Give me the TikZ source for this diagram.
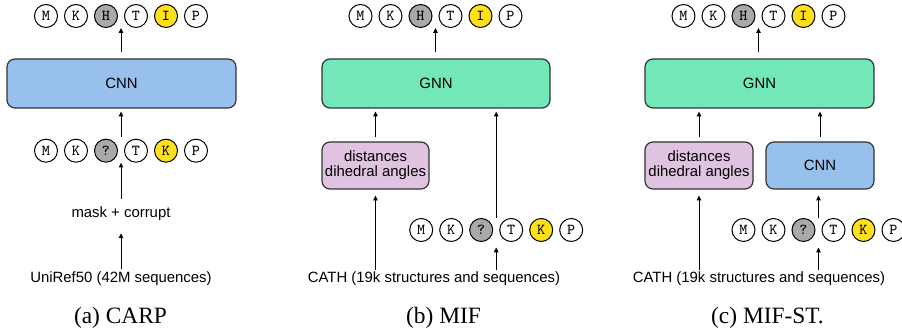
\documentclass[tikz,border=0pt]{standalone}
\usepackage{fontspec}
\setmainfont{Liberation Serif}
\setsansfont{Liberation Sans}
\usetikzlibrary{arrows.meta,calc}
\definecolor{cnnblue}{RGB}{151,192,236}
\definecolor{gnngreen}{RGB}{114,232,184}
\definecolor{featpurple}{RGB}{223,195,225}
\definecolor{maskgray}{RGB}{169,169,169}
\definecolor{subyellow}{RGB}{255,224,26}
\definecolor{edgegray}{RGB}{51,51,51}
\begin{document}
\begin{tikzpicture}[x=0.5pt,y=-0.5pt,
  model/.style={draw=edgegray, line width=0.6pt, rounded corners=4pt, minimum height=24.5pt, inner sep=0pt, align=center, font=\sffamily\fontsize{7.45}{7.6}\selectfont},
  res/.style={circle, draw=black, line width=0.5pt, minimum size=11.5pt, inner sep=0pt, font=\ttfamily\fontsize{7.6}{8}\selectfont},
  lbl/.style={inner sep=1pt, font=\sffamily\fontsize{7.45}{8.6}\selectfont},
  subcap/.style={inner sep=0pt, font=\rmfamily\fontsize{11.7}{14}\selectfont},
  arr/.style={-{Triangle[length=2.4pt,width=2.2pt]}, line width=0.5pt}]
\useasboundingbox (0,0) rectangle (902,335);

\foreach \p/\cx in {a/121,b/435.5,c/758.5}
  \foreach \lett/\fillc [count=\i] in {M/white,K/white,H/maskgray,T/white,I/subyellow,P/white}
    \node[res, fill=\fillc] (\p-out-\i) at ({\cx+(\i-3.5)*30},16) {\lett};
\foreach \p/\cx/\cy in {a/121/150.7,b/496.2/230,c/818.5/230}
  \foreach \lett/\fillc [count=\i] in {M/white,K/white,?/maskgray,T/white,K/subyellow,P/white}
    \node[res, fill=\fillc] (\p-in-\i) at ({\cx+(\i-3.5)*30},\cy) {\lett};
\foreach \p in {a,b,c} {
  \coordinate (\p-outgap) at ($(\p-out-3)!0.5!(\p-out-4)$);
  \coordinate (\p-ingap) at ($(\p-in-3)!0.5!(\p-in-4)$);
}

% (a) CARP
\node[model, fill=cnnblue, minimum width=114.5pt] (a-cnn) at (121.5,83.5) {CNN};
\node[lbl] (a-mask) at (121,214) {mask + corrupt};
\node[lbl] (a-data) at (121,279) {UniRef50 (42M sequences)};
\node[subcap] (a-cap) at (120.5,318) {(a) CARP};

\draw[arr, shorten <=3pt] (a-cnn.north -| a-outgap) -- (a-out-3.south -| a-outgap);
\draw[arr, shorten <=1pt, shorten >=1.5pt] (a-in-3.north -| a-ingap) -- (a-cnn.south -| a-ingap);
\draw[arr, shorten <=3pt] (a-mask.north) -- (a-in-3.south -| a-ingap);
\draw[arr, shorten <=0.5pt, shorten >=5pt] (a-data.north) -- (a-mask.south);

% (b) MIF
\node[model, fill=gnngreen, minimum width=114pt] (b-gnn) at (436,83.5) {GNN};
\node[model, fill=featpurple, minimum width=53.5pt, minimum height=23.5pt] (b-feat) at (375.5,165.5) {distances\\dihedral angles};
\node[lbl] (b-data) at (434,279) {CATH (19k structures and sequences)};
\node[subcap] (b-cap) at (443.5,318) {(b) MIF};

\draw[arr, shorten <=3pt] (b-gnn.north -| b-outgap) -- (b-out-3.south -| b-outgap);
\draw[arr, shorten <=2pt, shorten >=1.5pt] (b-feat.north) -- (b-gnn.south -| b-feat.north);
\draw[arr, shorten >=3pt] (b-data.north -| b-feat.south) -- (b-feat.south);
\draw[arr, shorten >=1.5pt] (b-in-3.north -| b-ingap) -- (b-gnn.south -| b-ingap);
\draw[arr, shorten >=2.75pt] (b-data.north -| b-ingap) -- (b-in-3.south -| b-ingap);

% (c) MIF-ST.
\node[model, fill=gnngreen, minimum width=114.5pt] (c-gnn) at (759.5,83.5) {GNN};
\node[model, fill=featpurple, minimum width=54pt, minimum height=23.5pt] (c-feat) at (699,165.5) {distances\\dihedral angles};
\node[model, fill=cnnblue, minimum width=54pt, minimum height=23.5pt] (c-cnn) at (820,165.5) {CNN};
\node[lbl] (c-data) at (759,279) {CATH (19k structures and sequences)};
\node[subcap] (c-cap) at (767.5,318) {(c) MIF-ST.};

\draw[arr, shorten <=3pt] (c-gnn.north -| c-outgap) -- (c-out-3.south -| c-outgap);
\draw[arr, shorten <=2pt, shorten >=1.5pt] (c-feat.north) -- (c-gnn.south -| c-feat.north);
\draw[arr, shorten >=3pt] (c-data.north -| c-feat.south) -- (c-feat.south);
\draw[arr, shorten <=2pt, shorten >=1.5pt] (c-cnn.north) -- (c-gnn.south -| c-cnn.north);
\draw[arr, shorten >=3pt] (c-in-3.north -| c-ingap) -- (c-cnn.south -| c-ingap);
\draw[arr, shorten >=2.75pt] (c-data.north -| c-ingap) -- (c-in-3.south -| c-ingap);
\end{tikzpicture}
\end{document}
